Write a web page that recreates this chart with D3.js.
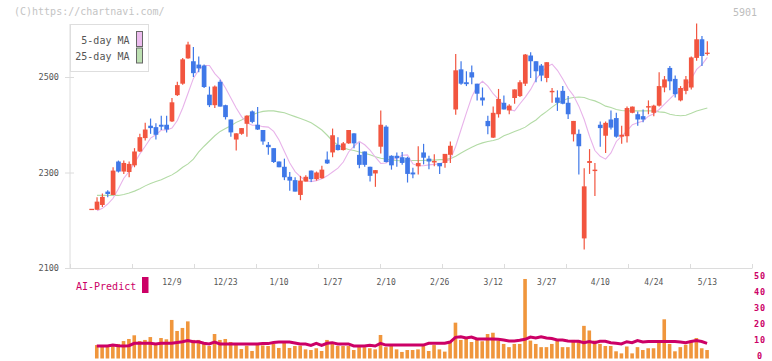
<!DOCTYPE html>
<html>
<head>
<meta charset="utf-8">
<script src="https://cdn.jsdelivr.net/npm/d3@7"></script>
<style>
  body { margin: 0; background: #fff; }
  svg text { font-family: 'DejaVu Sans Mono', monospace; }
</style>
</head>
<body>
<div id="chart"></div>
<script>
// trading days, 2024/11/18 .. 2025/5/13
var dates = ['11/18','11/19','11/20','11/21','11/22','11/25','11/26','11/27','11/28','11/29',
  '12/2','12/3','12/4','12/5','12/6','12/9','12/10','12/11','12/12','12/13',
  '12/16','12/17','12/18','12/19','12/20','12/23','12/24','12/25','12/26','12/27',
  '12/30','1/6','1/7','1/8','1/9','1/10','1/14','1/15','1/16','1/17',
  '1/20','1/21','1/22','1/23','1/24','1/27','1/28','1/29','1/30','1/31',
  '2/3','2/4','2/5','2/6','2/7','2/10','2/12','2/13','2/14','2/17',
  '2/18','2/19','2/20','2/21','2/25','2/26','2/27','2/28','3/3','3/4',
  '3/5','3/6','3/7','3/10','3/11','3/12','3/13','3/14','3/17','3/18',
  '3/19','3/21','3/24','3/25','3/26','3/27','3/28','3/31','4/1','4/2',
  '4/3','4/4','4/7','4/8','4/9','4/10','4/11','4/14','4/15','4/16',
  '4/17','4/18','4/21','4/22','4/23','4/24','4/25','4/28','4/30','5/1',
  '5/2','5/7','5/8','5/9','5/12','5/13']

var open = [2224,2222,2232,2260,2253,2323,2302,2301,2315,2344,
  2372,2398,2395,2400,2400,2407,2462,2486,2539,2533,
  2526,2524,2463,2441,2490,2441,2411,2369,2381,2402,
  2428,2400,2389,2358,2351,2323,2312,2291,2284,2253,
  2281,2304,2286,2288,2327,2342,2358,2347,2361,2382,
  2337,2344,2312,2298,2354,2396,2335,2335,2332,2331,
  2300,2313,2342,2329,2321,2320,2320,2337,2432,2516,
  2489,2510,2486,2457,2408,2373,2422,2446,2430,2456,
  2460,2486,2545,2533,2524,2498,2468,2457,2471,2446,
  2380,2381,2162,2320,2303,2400,2377,2411,2414,2375,
  2376,2425,2422,2418,2436,2425,2440,2478,2519,2496,
  2451,2471,2478,2540,2579,2549]
var high = [2224,2248,2256,2263,2311,2325,2325,2323,2351,2381,
  2404,2413,2403,2419,2419,2456,2490,2540,2574,2563,
  2543,2526,2480,2482,2494,2442,2411,2382,2393,2420,
  2430,2437,2389,2364,2351,2323,2329,2301,2290,2293,
  2294,2304,2302,2314,2344,2392,2374,2364,2389,2382,
  2363,2344,2312,2305,2430,2399,2336,2342,2343,2333,
  2310,2355,2360,2335,2338,2320,2339,2365,2548,2533,
  2512,2524,2486,2478,2419,2438,2475,2461,2443,2474,
  2493,2548,2552,2533,2527,2531,2477,2472,2481,2460,
  2408,2390,2309,2349,2320,2407,2407,2430,2425,2398,
  2438,2438,2428,2432,2451,2442,2510,2502,2523,2503,
  2481,2502,2543,2612,2586,2575]
var low = [2224,2222,2228,2248,2253,2300,2297,2290,2311,2343,
  2367,2381,2369,2389,2384,2406,2460,2484,2538,2500,
  2510,2477,2437,2435,2438,2411,2375,2346,2379,2375,
  2403,2389,2358,2337,2320,2311,2284,2262,2260,2242,
  2281,2280,2283,2287,2318,2332,2346,2346,2360,2351,
  2309,2312,2281,2270,2340,2321,2306,2312,2316,2279,
  2288,2296,2317,2307,2313,2297,2310,2320,2421,2484,
  2481,2485,2451,2440,2380,2372,2415,2432,2422,2444,
  2458,2481,2498,2489,2491,2489,2446,2429,2443,2412,
  2365,2296,2139,2297,2251,2354,2341,2390,2373,2360,
  2363,2424,2398,2405,2422,2418,2438,2468,2472,2457,
  2449,2464,2474,2534,2523,2545]
var close = [2224,2239,2249,2255,2304,2302,2320,2318,2344,2374,
  2390,2393,2379,2396,2390,2447,2483,2537,2568,2508,
  2518,2479,2441,2480,2438,2416,2384,2382,2393,2419,
  2406,2390,2365,2353,2322,2311,2290,2283,2260,2283,
  2291,2286,2300,2306,2319,2378,2347,2361,2389,2361,
  2316,2316,2293,2305,2400,2322,2315,2330,2320,2297,
  2296,2320,2331,2323,2324,2313,2339,2356,2514,2486,
  2485,2499,2465,2451,2397,2425,2454,2432,2440,2474,
  2489,2547,2533,2512,2503,2531,2471,2446,2444,2422,
  2408,2355,2271,2324,2306,2393,2404,2394,2375,2379,
  2435,2438,2411,2411,2439,2440,2481,2495,2491,2464,
  2477,2495,2541,2579,2544,2551]

var ma5 = [null,2220,2225,2234,2246,2266,2288,2302,2320,2339,
  2355,2372,2379,2389,2389,2393,2409,2435,2466,2497,
  2515,2524,2524,2507,2495,2477,2456,2435,2417,2404,
  2399,2399,2396,2395,2386,2368,2344,2320,2302,2291,
  2283,2281,2283,2287,2293,2301,2309,2322,2343,2355,
  2365,2358,2347,2332,2319,2320,2327,2330,2336,2337,
  2318,2314,2314,2316,2317,2318,2323,2327,2355,2390,
  2425,2458,2481,2491,2481,2465,2453,2440,2432,2429,
  2444,2458,2474,2495,2509,2521,2527,2514,2496,2476,
  2461,2439,2411,2376,2346,2334,2328,2341,2365,2376,
  2387,2400,2404,2408,2418,2423,2432,2443,2454,2465,
  2471,2482,2496,2516,2526,2541]
var ma25 = [null,2252,2252,2252,2252,2252,2254,2257,2261,2266,
  2272,2277,2281,2285,2290,2295,2302,2311,2318,2328,
  2343,2355,2366,2377,2386,2392,2398,2405,2410,2417,
  2421,2425,2428,2429,2429,2427,2425,2421,2417,2413,
  2409,2404,2397,2389,2378,2366,2357,2352,2348,2346,
  2343,2340,2337,2333,2330,2328,2326,2325,2324,2324,
  2325,2325,2325,2326,2326,2327,2327,2329,2334,2341,
  2347,2353,2358,2362,2365,2367,2370,2377,2381,2386,
  2390,2395,2403,2410,2420,2428,2437,2445,2451,2455,
  2457,2458,2457,2453,2450,2445,2439,2436,2432,2430,
  2429,2429,2429,2429,2429,2429,2427,2426,2422,2420,
  2419,2420,2424,2429,2432,2435]

var aiBars = [null,8.4,7.8,7.8,8.6,9.1,10.9,12.2,14.5,10.9,
  11.6,13.4,9.1,12.8,12.0,24.1,17.2,19.1,23.2,11.6,
  11.6,9.1,7.8,15.3,11.6,12.2,10.3,9.1,5.9,8.0,
  4.7,8.6,8.2,7.8,9.1,6.6,10.5,6.6,7.8,8.0,
  5.7,5.3,6.4,4.7,11.6,9.1,7.8,7.8,7.8,5.3,
  7.5,7.1,6.4,5.7,14.7,7.1,7.8,5.7,4.1,5.3,
  5.3,5.7,9.1,4.7,8.4,5.7,4.3,10.8,22.4,11.6,
  13.2,10.3,11.6,10.8,15.3,16.1,11.2,9.1,7.1,9.1,
  9.1,49.7,11.2,9.1,7.1,7.1,9.1,11.2,7.1,7.1,
  11.6,11.2,20.4,17.5,11.2,9.1,7.8,7.8,4.5,3.2,
  7.5,3.2,7.1,5.3,6.4,6.4,11.2,24.5,9.1,4.5,
  7.1,8.6,11.2,12.8,6.4,5.3]
var aiLine = [null,7.8,7.8,7.8,8.4,8.0,7.8,8.0,9.5,9.5,
  9.5,9.5,9.1,9.5,9.5,9.5,10.0,10.5,11.2,10.5,
  10.5,9.5,9.1,10.3,9.1,9.1,9.1,9.1,9.1,9.1,
  9.1,9.1,9.4,9.3,10.0,10.3,10.3,10.3,9.7,9.1,
  9.1,8.2,9.5,8.2,9.5,9.9,9.1,9.1,9.1,7.8,
  7.8,7.8,8.2,7.8,9.5,8.4,8.4,8.4,8.4,8.4,
  8.4,8.4,8.4,9.5,9.5,9.5,9.5,10.3,13.2,13.6,
  12.8,13.4,12.2,12.2,12.2,12.2,12.0,11.6,11.0,11.0,
  11.4,12.0,13.4,12.8,13.6,12.8,12.5,11.6,11.6,11.0,
  10.8,10.8,9.9,10.6,9.9,10.8,10.8,9.9,9.5,9.1,
  10.5,9.9,11.2,10.3,10.6,10.6,10.6,10.6,10.6,10.6,
  10.3,9.9,10.6,11.2,10.6,9.5]

var tickDates = ['12/9','12/23','1/10','1/27','2/10','2/26','3/12','3/27','4/10','4/24','5/13']
var priceTicks = [2100, 2300, 2500]
var aiTicks = [0, 10, 20, 30, 40, 50]

var upColor = '#f2553f'
var downColor = '#3f78e8'
var aiColor = '#cc0066'

drawChart()

function drawChart() {
  const width = 772
  const height = 361

  var svg = d3.select('#chart')
    .append('svg')
    .attr('width', width)
    .attr('height', height)

  var candles = dates.map((d, i) => ({ date: d, o: open[i], h: high[i], l: low[i], c: close[i] }))

  // scales
  var x = d3.scaleBand()
    .domain(dates)
    .range([89, 710])
    .paddingInner(0.12)
    .paddingOuter(0.06)
  var cx = d => x(d) + x.bandwidth() / 2

  var y = d3.scaleLinear().domain([2100, 2500]).range([268, 77])
  var yAI = d3.scaleLinear().domain([0, 50]).range([358.5, 278.5])
  var grid = d3.scaleLinear().domain([0, 11]).range([70, 752])

  // watermark + code
  svg.append('text').attr('x', 14).attr('y', 15).attr('font-size', 10)
    .attr('fill', '#c4c4c4').text('(C)https://chartnavi.com/')
  svg.append('text').attr('x', 757).attr('y', 15.5).attr('font-size', 10)
    .attr('text-anchor', 'end').attr('fill', '#bdbdbd').text('5901')

  // bottom axis line with small ticks
  var gx = svg.append('g')
    .attr('transform', 'translate(0,268)')
    .call(d3.axisTop(grid).ticks(11).tickSize(4).tickSizeOuter(0).tickFormat(''))
  gx.selectAll('line, path').attr('stroke', '#dcdcdc')

  // left axis
  var gy = svg.append('g')
    .attr('transform', 'translate(70,0)')
    .call(d3.axisLeft(y).tickValues(priceTicks).tickSize(5).tickPadding(6).tickFormat(d3.format('d')))
  gy.select('.domain').remove()
  gy.append('line')
    .attr('x1', 0).attr('x2', 0)
    .attr('y1', y.range()[0]).attr('y2', 24)
    .attr('stroke', '#dcdcdc')
  gy.selectAll('.tick line').attr('x1', 4).attr('stroke', '#dcdcdc')
  gy.selectAll('.tick text').attr('fill', '#555').attr('font-size', 8.5)
    .attr('font-family', "'DejaVu Sans Mono', monospace")

  // moving averages
  var maLine = arr => d3.line()
    .defined((v, i) => arr[i] != null)
    .x((v, i) => cx(dates[i]))
    .y(v => y(v))(arr)

  svg.append('path').attr('d', maLine(ma25))
    .attr('fill', 'none').attr('stroke', '#b3dba6').attr('stroke-width', 1.1)
  svg.append('path').attr('d', maLine(ma5))
    .attr('fill', 'none').attr('stroke', '#e8b3ea').attr('stroke-width', 1.1)

  // candles
  var g = svg.append('g')
  g.selectAll('line.wick')
    .data(candles)
    .join('line')
    .attr('class', 'wick')
    .attr('x1', d => cx(d.date)).attr('x2', d => cx(d.date))
    .attr('y1', d => y(d.h)).attr('y2', d => y(d.l))
    .attr('stroke', d => d.c >= d.o ? upColor : downColor)
    .attr('stroke-width', 1.2)
  g.selectAll('rect.body')
    .data(candles)
    .join('rect')
    .attr('class', 'body')
    .attr('x', d => x(d.date))
    .attr('width', x.bandwidth())
    .attr('y', d => y(Math.max(d.o, d.c)))
    .attr('height', d => Math.max(1.3, Math.abs(y(d.o) - y(d.c))))
    .attr('fill', d => d.c >= d.o ? upColor : downColor)

  // legend
  var lg = svg.append('g')
  lg.append('rect').attr('x', 70.5).attr('y', 24.5).attr('width', 78).attr('height', 47)
    .attr('fill', '#fff').attr('stroke', '#dedede')
  var items = [['5-day MA', '#ecbcee'], ['25-day MA', '#bde0b2']]
  items.forEach((it, i) => {
    lg.append('text').attr('x', 129.5).attr('y', 43.5 + i * 16.5)
      .attr('text-anchor', 'end').attr('font-size', 10).attr('fill', '#555').text(it[0])
    lg.append('rect').attr('x', 136.5).attr('y', 31.5 + i * 16.5).attr('width', 6).attr('height', 15)
      .attr('fill', it[1]).attr('stroke', '#666')
  })

  // date labels
  var gd = svg.append('g')
    .attr('transform', 'translate(0,285)')
    .call(d3.axisBottom(x).tickValues(tickDates).tickSize(0).tickPadding(0))
  gd.select('.domain').remove()
  gd.selectAll('text').attr('y', 0).attr('dy', 0)
    .attr('fill', '#555').attr('font-size', 8)
    .attr('font-family', "'DejaVu Sans Mono', monospace")

  // AI-Predict panel
  svg.append('text').attr('x', 76).attr('y', 290).attr('font-size', 10)
    .attr('fill', aiColor).text('AI-Predict')
  svg.append('rect').attr('x', 142).attr('y', 277).attr('width', 6.5).attr('height', 16)
    .attr('fill', aiColor)

  svg.append('g').selectAll('rect')
    .data(aiBars.map((v, i) => ({ date: dates[i], v: v })).filter(d => d.v != null))
    .join('rect')
    .attr('x', d => x(d.date) + 0.3)
    .attr('width', 3.6)
    .attr('y', d => yAI(d.v))
    .attr('height', d => yAI(0) - yAI(d.v))
    .attr('fill', '#f0963c')

  svg.append('path')
    .attr('d', d3.line()
      .defined((v, i) => aiLine[i] != null)
      .x((v, i) => x(dates[i]) + 2.1)
      .y(v => yAI(v))(aiLine))
    .attr('fill', 'none').attr('stroke', aiColor).attr('stroke-width', 3)

  var ga = svg.append('g')
    .attr('transform', 'translate(760,0)')
    .call(d3.axisRight(yAI).tickValues(aiTicks).tickSize(0).tickPadding(0))
  ga.select('.domain').remove()
  ga.selectAll('text').attr('text-anchor', 'middle').attr('dy', '0.28em').attr('y', -2)
    .attr('fill', aiColor).attr('font-size', 8.5).attr('font-weight', 'bold')
    .attr('letter-spacing', 1)
    .attr('font-family', "'DejaVu Sans Mono', monospace")
}
</script>
</body>
</html>
